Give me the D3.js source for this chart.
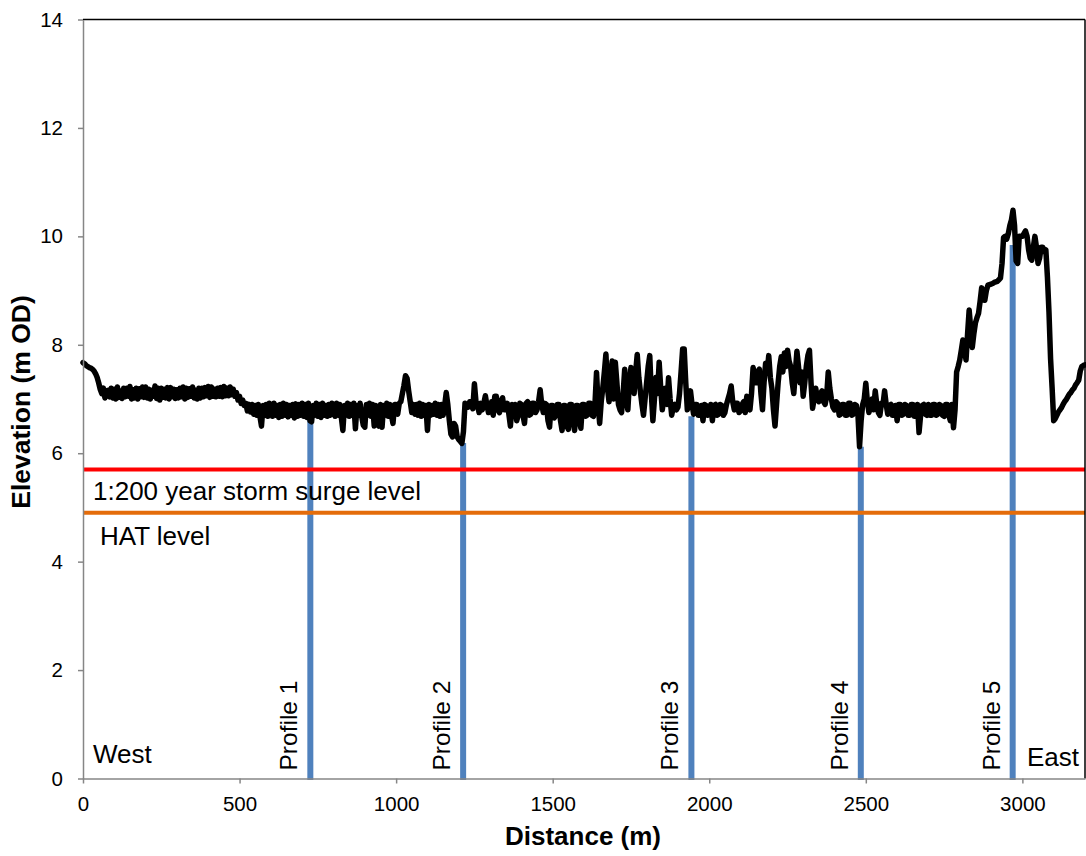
<!DOCTYPE html>
<html>
<head>
<meta charset="utf-8">
<script src="https://cdn.jsdelivr.net/npm/d3@7"></script>
<style>
  body { margin: 0; background: #fff; }
  svg { display: block; }
  text { font-family: "Liberation Sans", Arial, Helvetica, sans-serif; fill: #000; }
</style>
</head>
<body>
<svg id="chart" width="1086" height="856"></svg>
<script>
// Crest elevation along the frontage, surveyed every 5 m (m OD); one row per 100 m
const sampleSpacing = 5;
const elevation = [
  7.67, 7.65, 7.62, 7.6, 7.58, 7.57, 7.55, 7.52, 7.47, 7.4, 7.3, 7.18, 7.1, 7.2, 7.02, 7.15, 7.16, 7.04, 7.2, 7.02,
  7.18, 7.0, 7.22, 7.03, 7.15, 7.01, 7.2, 7.04, 7.2, 7.05, 7.23, 7.0, 7.17, 7.02, 7.2, 7.0, 7.19, 7.04, 7.22, 7.03,
  7.22, 7.02, 7.18, 7.0, 7.16, 7.05, 7.24, 7.01, 7.2, 6.98, 7.2, 7.03, 7.18, 7.02, 7.21, 7.0, 7.21, 7.04, 7.18, 7.01,
  7.17, 7.02, 7.2, 7.04, 7.22, 7.0, 7.2, 7.03, 7.19, 7.05, 7.22, 7.02, 7.16, 7.0, 7.2, 7.02, 7.2, 7.04, 7.21, 7.06,
  7.23, 7.03, 7.22, 7.05, 7.18, 7.04, 7.2, 7.05, 7.21, 7.04, 7.23, 7.06, 7.2, 7.06, 7.22, 7.08, 7.18, 7.05, 7.12, 6.98,
  7.05, 6.92, 6.98, 6.88, 6.92, 6.78, 6.9, 6.76, 6.9, 6.72, 6.88, 6.7, 6.9, 6.68, 6.5, 6.88, 6.7, 6.9, 6.68, 6.92,
  6.9, 6.68, 6.92, 6.7, 6.88, 6.66, 6.9, 6.68, 6.92, 6.7, 6.9, 6.67, 6.88, 6.7, 6.9, 6.65, 6.91, 6.68, 6.9, 6.7,
  6.92, 6.68, 6.9, 6.66, 6.92, 6.6, 6.58, 6.88, 6.7, 6.92, 6.68, 6.9, 6.66, 6.92, 6.7, 6.88, 6.68, 6.9, 6.7, 6.92,
  6.9, 6.68, 6.92, 6.7, 6.9, 6.66, 6.42, 6.88, 6.7, 6.92, 6.68, 6.9, 6.7, 6.92, 6.45, 6.88, 6.7, 6.92, 6.68, 6.52,
  6.48, 6.9, 6.7, 6.92, 6.68, 6.9, 6.5, 6.88, 6.7, 6.5, 6.9, 6.48, 6.88, 6.7, 6.92, 6.68, 6.9, 6.7, 6.55, 6.9,
  6.9, 6.72, 6.92, 6.95, 7.1, 7.25, 7.43, 7.38, 7.15, 6.95, 6.75, 6.9, 6.72, 6.9, 6.7, 6.92, 6.68, 6.9, 6.7, 6.88,
  6.42, 6.9, 6.7, 6.88, 6.72, 6.92, 6.7, 6.9, 6.68, 6.9, 6.7, 6.88, 7.12, 6.9, 6.6, 6.35, 6.3, 6.55, 6.5, 6.3,
  6.25, 6.22, 6.18, 6.4, 6.92, 6.88, 6.85, 6.95, 6.9, 6.82, 7.28, 6.95, 6.88, 6.75, 6.92, 6.8, 6.92, 7.06, 6.88, 6.75,
  6.8, 6.95, 6.7, 7.05, 7.05, 6.8, 6.75, 6.95, 7.02, 6.8, 6.8, 6.92, 6.72, 6.5, 6.9, 6.72, 6.9, 6.6, 6.7, 6.92,
  6.9, 6.7, 6.55, 6.92, 6.95, 6.7, 6.72, 6.92, 6.92, 6.75, 6.8, 6.95, 7.17, 6.9, 6.75, 6.92, 6.9, 6.6, 6.48, 6.88,
  6.88, 6.65, 6.7, 6.9, 6.9, 6.6, 6.42, 6.88, 6.88, 6.5, 6.44, 6.9, 6.9, 6.6, 6.42, 6.88, 6.88, 6.6, 6.46, 6.9,
  6.9, 6.68, 6.7, 6.92, 6.92, 6.7, 6.68, 6.9, 7.49, 6.9, 6.55, 6.95, 7.2, 7.5, 7.83, 7.2, 6.95, 7.4, 7.7, 7.0,
  7.68, 7.3, 6.9, 6.8, 6.75, 7.1, 7.55, 7.0, 6.8, 7.3, 7.58, 7.4, 7.1, 7.5, 7.82, 7.4, 7.14, 6.9, 6.7, 7.0,
  7.3, 7.6, 7.8, 7.1, 6.6, 7.0, 7.4, 7.1, 7.68, 7.2, 6.8, 7.0, 7.2, 6.9, 7.39, 7.0, 6.7, 6.85, 6.9, 6.8,
  6.85, 7.1, 7.5, 7.92, 7.92, 7.3, 6.8, 6.95, 7.15, 6.9, 6.72, 6.9, 6.9, 6.7, 6.7, 6.88, 6.6, 6.9, 6.88, 6.7,
  6.72, 6.9, 6.6, 6.88, 6.9, 6.7, 6.72, 6.9, 6.88, 6.7, 6.75, 6.9, 7.0, 7.1, 7.24, 6.95, 6.8, 6.92, 6.92, 6.75,
  6.78, 6.9, 6.95, 6.75, 7.05, 6.92, 6.8, 7.1, 7.58, 7.45, 7.3, 7.5, 7.55, 7.1, 6.8, 7.3, 7.66, 7.5, 7.8, 7.4,
  7.2, 6.8, 6.5, 6.9, 7.3, 7.6, 7.78, 7.5, 7.85, 7.6, 7.9, 7.7, 7.6, 7.3, 7.1, 7.5, 7.88, 7.6, 7.3, 7.5,
  7.05, 7.3, 7.6, 7.8, 7.9, 7.3, 6.83, 7.0, 7.2, 7.0, 6.95, 7.1, 7.15, 6.95, 6.9, 7.05, 7.5, 7.2, 7.0, 6.85,
  6.8, 6.95, 6.92, 6.7, 6.72, 6.9, 6.9, 6.7, 6.7, 6.92, 6.92, 6.7, 6.72, 6.9, 6.88, 6.7, 6.12, 6.6, 6.9, 7.0,
  7.29, 6.95, 6.75, 6.9, 7.0, 6.8, 7.15, 6.9, 6.75, 6.7, 6.92, 6.9, 7.15, 6.9, 6.72, 6.88, 6.9, 6.7, 6.7, 6.88,
  6.6, 6.9, 6.9, 6.7, 6.72, 6.9, 6.88, 6.7, 6.7, 6.9, 6.9, 6.68, 6.68, 6.9, 6.38, 6.7, 6.88, 6.9, 6.72, 6.7,
  6.9, 6.7, 6.7, 6.9, 6.9, 6.7, 6.72, 6.9, 6.88, 6.7, 6.68, 6.9, 6.9, 6.7, 6.6, 6.9, 6.47, 6.8, 7.5, 7.6,
  7.72, 7.9, 8.09, 7.95, 7.72, 8.2, 8.64, 8.3, 7.95, 8.2, 8.4, 8.5, 8.58, 8.8, 9.05, 8.95, 8.82, 9.0, 9.1, 9.11,
  9.12, 9.13, 9.15, 9.16, 9.17, 9.2, 9.23, 9.5, 9.98, 10.0, 9.95, 10.05, 10.2, 10.3, 10.48, 10.2, 9.55, 9.5, 10.0, 10.0,
  10.0, 10.05, 10.1, 10.0, 9.75, 9.6, 9.56, 9.8, 10.0, 9.8, 9.5, 9.6, 9.8, 9.8, 9.72, 9.75, 9.25, 8.6, 7.75, 7.2,
  6.6, 6.64, 6.7, 6.76, 6.8, 6.84, 6.9, 6.95, 6.99, 7.04, 7.09, 7.12, 7.17, 7.2, 7.26, 7.3, 7.35, 7.52, 7.6, 7.62,
  7.63
];
const distance = elevation.map((_, i) => i * sampleSpacing);

// Cross-shore profile locations (m) and the crest height where each one starts
const profileNames = ["Profile 1", "Profile 2", "Profile 3", "Profile 4", "Profile 5"];
const profileDistance = [726, 1214, 1943, 2484, 2969];
const profileTop = [6.61, 6.19, 6.68, 6.12, 9.84];

// Reference water levels (m OD)
const stormSurgeLevel = 5.7;
const hatLevel = 4.9;

const xTicks = [0, 500, 1000, 1500, 2000, 2500, 3000];
const yTicks = [0, 2, 4, 6, 8, 10, 12, 14];

const svg = d3.select("#chart");
const plotLeft = 83, plotRight = 1085, plotTop = 19.5, plotBottom = 778.5;

const x = d3.scaleLinear().domain([0, 3200]).range([plotLeft, plotRight]);
const y = d3.scaleLinear().domain([0, 14]).range([plotBottom, plotTop]);

// profile lines
svg.append("g").selectAll("line")
  .data(profileDistance)
  .join("line")
  .attr("x1", d => x(d)).attr("x2", d => x(d))
  .attr("y1", y(0) + 1.5)
  .attr("y2", (d, i) => y(profileTop[i]))
  .attr("stroke", "#4F81BD")
  .attr("stroke-width", 6);

// water levels
svg.append("line")
  .attr("x1", x(0)).attr("x2", x(3200))
  .attr("y1", y(stormSurgeLevel)).attr("y2", y(stormSurgeLevel))
  .attr("stroke", "#FF0000").attr("stroke-width", 4);
svg.append("line")
  .attr("x1", x(0)).attr("x2", x(3200))
  .attr("y1", y(hatLevel)).attr("y2", y(hatLevel))
  .attr("stroke", "#E46C0A").attr("stroke-width", 4);

// crest elevation
const line = d3.line()
  .x((d, i) => x(distance[i]))
  .y(d => y(d));
svg.append("path")
  .datum(elevation)
  .attr("d", line)
  .attr("fill", "none")
  .attr("stroke", "#000")
  .attr("stroke-width", 5.5)
  .attr("stroke-linejoin", "round")
  .attr("stroke-linecap", "round");

// plot frame (top and right)
svg.append("line").attr("x1", plotLeft).attr("x2", plotRight).attr("y1", plotTop).attr("y2", plotTop)
  .attr("stroke", "#000").attr("stroke-width", 1.5);
svg.append("line").attr("x1", plotRight).attr("x2", plotRight).attr("y1", plotTop).attr("y2", plotBottom)
  .attr("stroke", "#000").attr("stroke-width", 1.5);

// axes
const yAxis = svg.append("g")
  .attr("transform", `translate(${plotLeft},0)`)
  .call(d3.axisLeft(y).tickValues(yTicks).tickFormat(d3.format("d"))
    .tickSize(5).tickSizeOuter(0).tickPadding(15));
const xAxis = svg.append("g")
  .attr("transform", `translate(0,${plotBottom})`)
  .call(d3.axisBottom(x).tickValues(xTicks).tickFormat(d3.format("d"))
    .tickSize(5).tickSizeOuter(0).tickPadding(13));
[yAxis, xAxis].forEach(g => {
  g.select(".domain").attr("stroke", "#868686").attr("stroke-width", 1.5);
  g.selectAll(".tick line").attr("stroke", "#868686").attr("stroke-width", 1.5);
  g.selectAll(".tick text").attr("fill", "#000")
    .style("font-size", "20.5px")
    .style("font-family", "'Liberation Sans', Arial, sans-serif");
});

// axis titles
svg.append("text")
  .attr("transform", `translate(30,402) rotate(-90)`)
  .attr("text-anchor", "middle")
  .style("font-size", "26.5px").style("font-weight", "bold")
  .text("Elevation (m OD)");
svg.append("text")
  .attr("x", 583).attr("y", 845)
  .attr("text-anchor", "middle")
  .style("font-size", "26px").style("font-weight", "bold")
  .text("Distance (m)");

// profile labels
svg.append("g").selectAll("text")
  .data(profileNames)
  .join("text")
  .attr("transform", (d, i) => `translate(${x(profileDistance[i]) - 13},${plotBottom - 8}) rotate(-90)`)
  .style("font-size", "24.5px")
  .text(d => d);

// level and direction labels
svg.append("text").attr("x", 93).attr("y", y(stormSurgeLevel) + 31)
  .style("font-size", "26px").text("1:200 year storm surge level");
svg.append("text").attr("x", 100).attr("y", y(hatLevel) + 32)
  .style("font-size", "26px").text("HAT level");
svg.append("text").attr("x", 93).attr("y", 763)
  .style("font-size", "26px").text("West");
svg.append("text").attr("x", 1027).attr("y", 766)
  .style("font-size", "26px").text("East");
</script>
</body>
</html>
